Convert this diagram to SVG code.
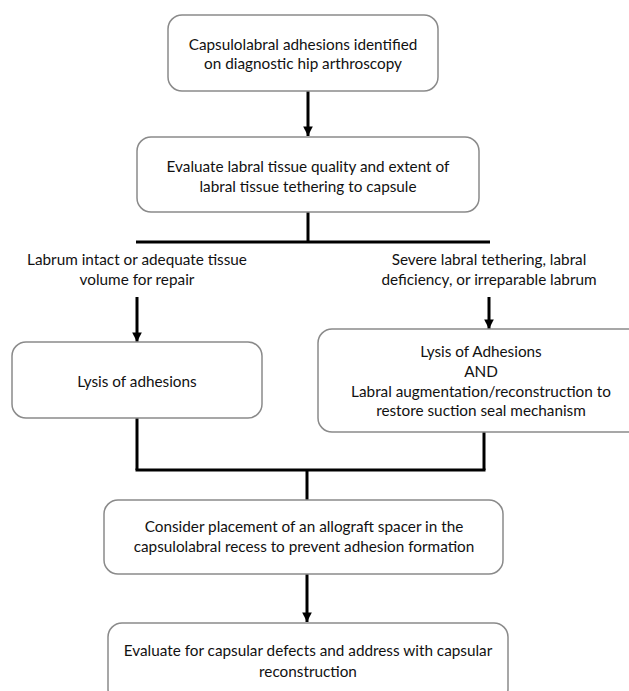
<svg xmlns="http://www.w3.org/2000/svg" width="629" height="691" viewBox="0 0 629 691">
<style>
.box{fill:#fff;stroke:#8a8a8a;stroke-width:1.5}
.t{font-family:Lato,"Open Sans","Liberation Sans",sans-serif;font-size:15.3px;fill:#111;text-anchor:middle}
.c{stroke:#000;stroke-width:3;fill:none}
</style>
<defs>
<marker id="ah" viewBox="0 0 10 10" refX="10" refY="5" markerWidth="3.2" markerHeight="3.2" orient="auto" markerUnits="strokeWidth">
<path d="M0,0 L10,5 L0,10 z" fill="#000"/>
</marker>
</defs>
<rect width="629" height="691" fill="#fff"/>
<g id="connectors">
<line class="c" x1="308" y1="91" x2="308" y2="136" marker-end="url(#ah)"/>
<line class="c" x1="308" y1="212" x2="308" y2="242"/>
<line class="c" x1="136" y1="242" x2="490" y2="242"/>
<line class="c" x1="137" y1="297" x2="137" y2="342" marker-end="url(#ah)"/>
<line class="c" x1="489" y1="297" x2="489" y2="329" marker-end="url(#ah)"/>
<line class="c" x1="137" y1="418" x2="137" y2="470"/>
<line class="c" x1="484" y1="432" x2="484" y2="470"/>
<line class="c" x1="135.5" y1="470" x2="485.5" y2="470"/>
<line class="c" x1="307" y1="470" x2="307" y2="500"/>
<line class="c" x1="307" y1="574" x2="307" y2="622" marker-end="url(#ah)"/>
</g>
<g id="n1">
<rect class="box" x="168" y="15" width="270" height="76" rx="14"/>
<text class="t" x="303" y="50">Capsulolabral adhesions identified</text>
<text class="t" x="303" y="69">on diagnostic hip arthroscopy</text>
</g>
<g id="n2">
<rect class="box" x="137" y="137" width="342" height="75" rx="14"/>
<text class="t" x="308" y="172">Evaluate labral tissue quality and extent of</text>
<text class="t" x="308" y="192">labral tissue tethering to capsule</text>
</g>
<g id="l1">
<text class="t" x="137" y="265">Labrum intact or adequate tissue</text>
<text class="t" x="137" y="285">volume for repair</text>
</g>
<g id="l2">
<text class="t" x="489" y="265">Severe labral tethering, labral</text>
<text class="t" x="489" y="285">deficiency, or irreparable labrum</text>
</g>
<g id="n3">
<rect class="box" x="12" y="342" width="250" height="76" rx="14"/>
<text class="t" x="137" y="387">Lysis of adhesions</text>
</g>
<g id="n4">
<rect class="box" x="318" y="329" width="330" height="103" rx="14"/>
<text class="t" x="481" y="357">Lysis of Adhesions</text>
<text class="t" x="481" y="377">AND</text>
<text class="t" x="481" y="397">Labral augmentation/reconstruction to</text>
<text class="t" x="481" y="416">restore suction seal mechanism</text>
</g>
<g id="n5">
<rect class="box" x="104" y="500" width="399" height="74" rx="14"/>
<text class="t" x="304" y="532">Consider placement of an allograft spacer in the</text>
<text class="t" x="304" y="552">capsulolabral recess to prevent adhesion formation</text>
</g>
<g id="n6">
<rect class="box" x="108" y="623" width="400" height="80" rx="14"/>
<text class="t" x="308" y="656">Evaluate for capsular defects and address with capsular</text>
<text class="t" x="308" y="677">reconstruction</text>
</g>
</svg>
